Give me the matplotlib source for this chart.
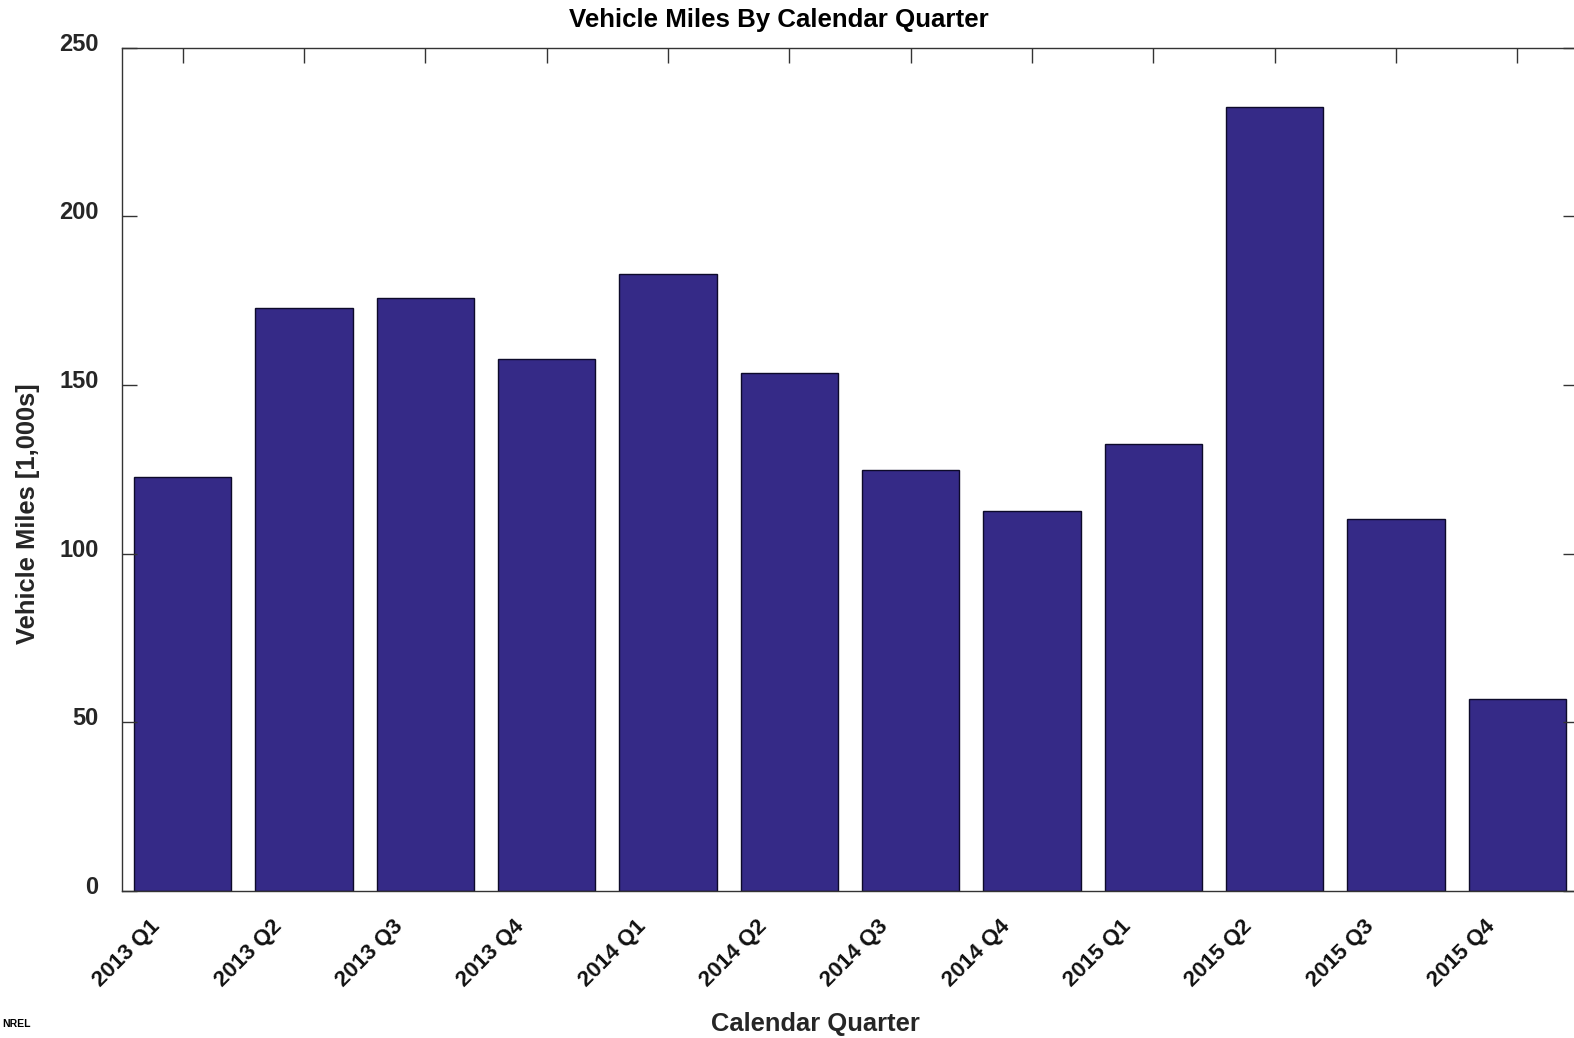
import matplotlib
matplotlib.use("Agg")
import matplotlib.pyplot as plt
import matplotlib.transforms as mtransforms
import numpy as np

quarters = ["2013 Q1", "2013 Q2", "2013 Q3", "2013 Q4",
            "2014 Q1", "2014 Q2", "2014 Q3", "2014 Q4",
            "2015 Q1", "2015 Q2", "2015 Q3", "2015 Q4"]
miles = [122.8, 172.7, 175.7, 157.8, 182.8, 153.7, 124.9, 112.7, 132.6, 232.5, 110.3, 56.8]
yticks = [0, 50, 100, 150, 200, 250]

plt.rcParams['font.family'] = ['Liberation Sans', 'DejaVu Sans']
plt.rcParams['font.weight'] = 'bold'

W, H = 1574, 1038
fig = plt.figure(figsize=(W/100, H/100), dpi=100)
L, R, T, B = 122, 1578, 47.7, 891
ax = fig.add_axes([L/W, 1-B/H, (R-L)/W, (B-T)/H])

x = np.arange(1, len(quarters)+1)
ax.bar(x, miles, width=0.8, color='#352A87', edgecolor='#0d0a2a', linewidth=1.0, zorder=1)

ax.set_xlim(0.5, 12.5)
ax.set_ylim(0, 250)
ax.set_yticks(yticks)
ax.set_xticks(x)
ax.set_xticklabels([])

for s in ax.spines.values():
    s.set_color('#333333')
    s.set_linewidth(1.0)
    s.set_zorder(3)

ax.tick_params(axis='both', direction='in', length=11, width=1.0, color='#333333',
               labelsize=17, labelcolor='#262626', top=True, right=True, bottom=False)
ax.tick_params(axis='y', pad=17)
for lab in ax.get_yticklabels():
    lab.set_fontweight('bold')
    lab.set_transform(lab.get_transform() + mtransforms.Affine2D().translate(0, 6))

# rotated category labels
trans = mtransforms.offset_copy(ax.get_xaxis_transform(), fig=fig, x=-33, y=-25, units='dots')
for xi, q in zip(x, quarters):
    ax.text(xi, 0, q, transform=trans, rotation=45, ha='right', va='top',
            rotation_mode='anchor', fontsize=16, fontweight='bold', color='#111111')

fig.text(779/W, 1-20/H, "Vehicle Miles By Calendar Quarter", ha='center', va='center',
         fontsize=18.6, fontweight='bold', color='black')
fig.text(815/W, 1-1024/H, "Calendar Quarter", ha='center', va='center',
         fontsize=18.4, fontweight='bold', color='#262626')
fig.text(28/W, 1-514/H, "Vehicle Miles [1,000s]", ha='center', va='center', rotation=90,
         fontsize=18.4, fontweight='bold', color='#262626')

fig.text(2/W, 1-1024/H, "NREL", ha='left', va='center', fontsize=7.5, fontweight='bold')

fig.savefig("out.png", dpi=100)
